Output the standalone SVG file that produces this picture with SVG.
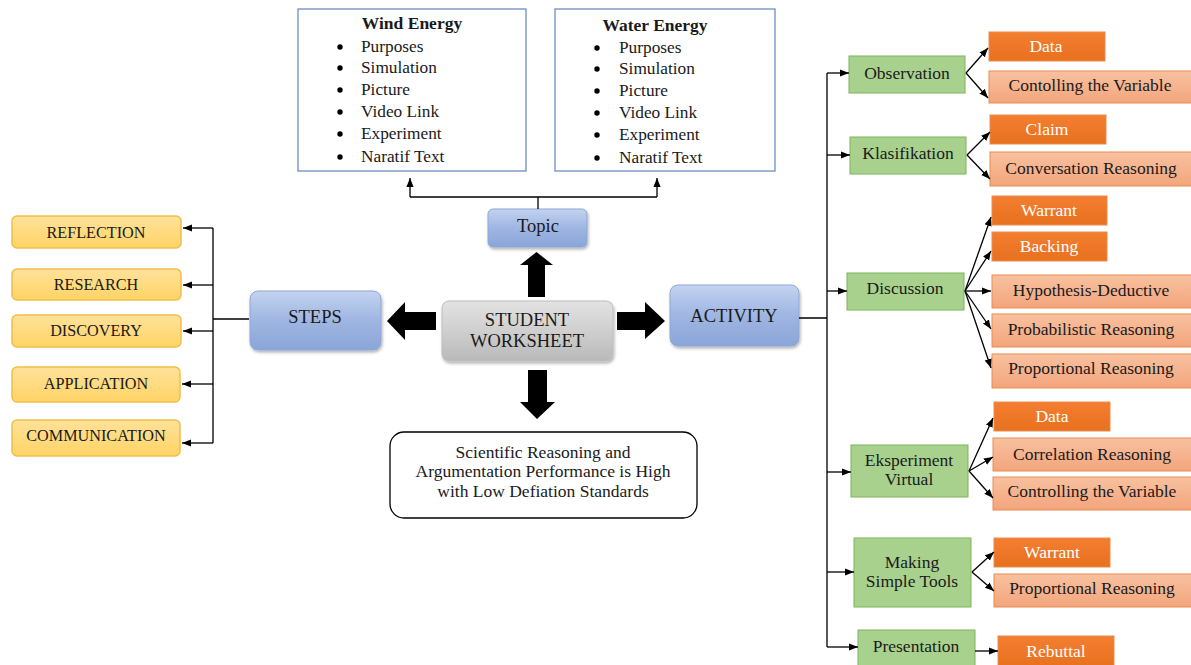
<svg xmlns="http://www.w3.org/2000/svg" width="1191" height="665" viewBox="0 0 1191 665" font-family="'Liberation Serif', 'Times New Roman', 'DejaVu Serif', serif">
<defs>
<linearGradient id="gy" x1="0" y1="0" x2="0" y2="1"><stop offset="0" stop-color="#FFE29A"/><stop offset="1" stop-color="#FFD466"/></linearGradient>
<linearGradient id="gb" x1="0" y1="0" x2="0" y2="1"><stop offset="0" stop-color="#C3D3F0"/><stop offset="0.5" stop-color="#9FB6E2"/><stop offset="1" stop-color="#8AA5D8"/></linearGradient>
<linearGradient id="gg" x1="0" y1="0" x2="0" y2="1"><stop offset="0" stop-color="#E2E2E2"/><stop offset="0.5" stop-color="#CFCFCF"/><stop offset="1" stop-color="#B9B9B9"/></linearGradient>
<linearGradient id="go" x1="0" y1="0" x2="0" y2="1"><stop offset="0" stop-color="#F47E30"/><stop offset="1" stop-color="#E8711F"/></linearGradient>
<linearGradient id="glo" x1="0" y1="0" x2="0" y2="1"><stop offset="0" stop-color="#F8C1A0"/><stop offset="1" stop-color="#F3A57C"/></linearGradient>
<marker id="ah" viewBox="0 0 10 10" refX="10" refY="5" markerWidth="9" markerHeight="9" markerUnits="userSpaceOnUse" orient="auto"><path d="M0,1 L10,5 L0,9 z" fill="#000"/></marker>
<filter id="sh" x="-10%" y="-10%" width="130%" height="140%"><feDropShadow dx="1" dy="2" stdDeviation="1.5" flood-color="#000" flood-opacity="0.3"/></filter>
</defs>
<style>
text{font-family:'Liberation Serif','Times New Roman',serif;fill:#1a1a1a}
.y{fill:url(#gy);stroke:#F0BE4A;stroke-width:1.5}
.b{fill:url(#gb);stroke:#8EA7D6;stroke-width:1}
.g{fill:url(#gg);stroke:#BDBDBD;stroke-width:1}
.gr{fill:#A9D18E;stroke:#7DB35B;stroke-width:1}
.o{fill:url(#go);stroke:#E98B4E;stroke-width:1}
.lo{fill:url(#glo);stroke:#E98B4E;stroke-width:1}
.tb{fill:#fff;stroke:#6C8EBF;stroke-width:1.3}
.ln{fill:none;stroke:#000;stroke-width:1.3}
.ar{fill:none;stroke:#000;stroke-width:1.3;marker-end:url(#ah)}
.cap{font-size:16.2px;text-anchor:middle}
.lab{font-size:17.5px;text-anchor:middle}
.wt{fill:#fff;font-size:17.5px;text-anchor:middle}
.li{font-size:17.3px}
.big{font-size:18.5px;text-anchor:middle}
</style>

<!-- Top boxes -->
<g id="wind">
<rect class="tb" x="298" y="9" width="228" height="162"/>
<text x="412" y="29" font-size="17.5" font-weight="bold" text-anchor="middle">Wind Energy</text>
<g class="li"><circle cx="340" cy="47" r="2.7"/><text x="361" y="52">Purposes</text>
<circle cx="340" cy="68" r="2.7"/><text x="361" y="73">Simulation</text>
<circle cx="340" cy="90" r="2.7"/><text x="361" y="95">Picture</text>
<circle cx="340" cy="112" r="2.7"/><text x="361" y="117">Video Link</text>
<circle cx="340" cy="134" r="2.7"/><text x="361" y="139">Experiment</text>
<circle cx="340" cy="157" r="2.7"/><text x="361" y="162">Naratif Text</text></g>
</g>
<g id="water">
<rect class="tb" x="555" y="9" width="220" height="162"/>
<text x="655" y="31" font-size="17.5" font-weight="bold" text-anchor="middle">Water Energy</text>
<g class="li"><circle cx="597" cy="48" r="2.7"/><text x="619" y="53">Purposes</text>
<circle cx="597" cy="69" r="2.7"/><text x="619" y="74">Simulation</text>
<circle cx="597" cy="91" r="2.7"/><text x="619" y="96">Picture</text>
<circle cx="597" cy="113" r="2.7"/><text x="619" y="118">Video Link</text>
<circle cx="597" cy="135" r="2.7"/><text x="619" y="140">Experiment</text>
<circle cx="597" cy="158" r="2.7"/><text x="619" y="163">Naratif Text</text></g>
</g>

<!-- Center -->
<g id="topic"><rect class="b" x="488" y="209" width="99" height="38" rx="5" filter="url(#sh)"/><text class="big" x="538" y="232">Topic</text></g>
<g id="student"><rect class="g" x="442" y="301" width="171" height="60" rx="7" filter="url(#sh)"/><text class="big" x="527" y="326">STUDENT</text><text class="big" x="527" y="347">WORKSHEET</text></g>
<g id="steps"><rect class="b" x="250" y="291" width="131" height="59" rx="8" filter="url(#sh)"/><text class="big" x="315" y="323">STEPS</text></g>
<g id="activity"><rect class="b" x="670" y="285" width="129" height="61" rx="8" filter="url(#sh)"/><text class="big" x="734" y="322">ACTIVITY</text></g>
<g id="result"><rect x="390" y="432" width="307" height="86" rx="14" fill="#fff" stroke="#000" stroke-width="1.3"/>
<text class="lab" x="543" y="458">Scientific Reasoning and</text>
<text class="lab" x="543" y="477">Argumentation Performance is High</text>
<text class="lab" x="543" y="497">with Low Defiation Standards</text></g>

<!-- Left steps -->
<g id="reflection"><rect class="y" x="12" y="216" width="169" height="32" rx="5"/><text class="cap" x="96" y="238">REFLECTION</text></g>
<g id="research"><rect class="y" x="12" y="269" width="169" height="31" rx="5"/><text class="cap" x="96" y="290">RESEARCH</text></g>
<g id="discovery"><rect class="y" x="12" y="315" width="169" height="32" rx="5"/><text class="cap" x="96" y="336">DISCOVERY</text></g>
<g id="application"><rect class="y" x="12" y="367" width="168" height="35" rx="5"/><text class="cap" x="96" y="389">APPLICATION</text></g>
<g id="communication"><rect class="y" x="12" y="420" width="168" height="36" rx="5"/><text class="cap" x="96" y="441">COMMUNICATION</text></g>

<!-- Right side -->
<g id="observation"><rect class="gr" x="849" y="56" width="116" height="37"/><text class="lab" x="907" y="79">Observation</text></g>
<g id="klasifikation"><rect class="gr" x="850" y="137" width="116" height="37"/><text class="lab" x="908" y="159">Klasifikation</text></g>
<g id="discussion"><rect class="gr" x="847" y="273" width="117" height="37"/><text class="lab" x="905" y="294">Discussion</text></g>
<g id="eksperiment"><rect class="gr" x="851" y="445" width="117" height="52"/><text class="lab" x="909" y="466">Eksperiment</text><text class="lab" x="909" y="485">Virtual</text></g>
<g id="making"><rect class="gr" x="854" y="538" width="117" height="69"/><text class="lab" x="912" y="568">Making</text><text class="lab" x="912" y="587">Simple Tools</text></g>
<g id="presentation"><rect class="gr" x="858" y="630" width="117" height="36"/><text class="lab" x="916" y="652">Presentation</text></g>

<g id="obs-data"><rect class="o" x="989" y="32" width="116" height="29"/><text class="wt" x="1046" y="52">Data</text></g>
<g id="obs-ctrl"><rect class="lo" x="989" y="71" width="205" height="32"/><text class="lab" x="1090" y="91">Contolling the Variable</text></g>
<g id="kla-claim"><rect class="o" x="990" y="115" width="116" height="29"/><text class="wt" x="1047" y="135">Claim</text></g>
<g id="kla-conv"><rect class="lo" x="990" y="152" width="204" height="34"/><text class="lab" x="1091" y="174">Conversation Reasoning</text></g>
<g id="dis-warrant"><rect class="o" x="992" y="196" width="115" height="29"/><text class="wt" x="1049" y="216">Warrant</text></g>
<g id="dis-backing"><rect class="o" x="992" y="232" width="115" height="29"/><text class="wt" x="1049" y="252">Backing</text></g>
<g id="dis-hyp"><rect class="lo" x="992" y="275" width="202" height="33"/><text class="lab" x="1091" y="296">Hypothesis-Deductive</text></g>
<g id="dis-prob"><rect class="lo" x="992" y="314" width="202" height="33"/><text class="lab" x="1091" y="335">Probabilistic Reasoning</text></g>
<g id="dis-prop"><rect class="lo" x="992" y="354" width="202" height="34"/><text class="lab" x="1091" y="374">Proportional Reasoning</text></g>
<g id="eks-data"><rect class="o" x="994" y="402" width="116" height="29"/><text class="wt" x="1052" y="422">Data</text></g>
<g id="eks-corr"><rect class="lo" x="993" y="438" width="201" height="33"/><text class="lab" x="1092" y="460">Correlation Reasoning</text></g>
<g id="eks-ctrl"><rect class="lo" x="993" y="477" width="201" height="33"/><text class="lab" x="1092" y="497">Controlling the Variable</text></g>
<g id="mak-warrant"><rect class="o" x="994" y="538" width="116" height="29"/><text class="wt" x="1052" y="558">Warrant</text></g>
<g id="mak-prop"><rect class="lo" x="994" y="574" width="200" height="33"/><text class="lab" x="1092" y="594">Proportional Reasoning</text></g>
<g id="pre-rebuttal"><rect class="o" x="998" y="636" width="116" height="31"/><text class="wt" x="1056" y="657">Rebuttal</text></g>

<!-- Connectors -->
<g id="connectors">
<polygon points="528,297 528,265 520,265 536.5,252 553,265 545,265 545,297" fill="#000"/>
<polygon points="436,312 405,312 405,302 387,321 405,340 405,330 436,330" fill="#000"/>
<polygon points="617,312 645,312 645,302 665,321 645,339 645,330 617,330" fill="#000"/>
<polygon points="528,370 547,370 547,402 555,402 537,419 520,402 528,402" fill="#000"/>
<path class="ln" d="M538,209 V197 M410,197 H657"/>
<path class="ar" d="M410,197 V178"/>
<path class="ar" d="M657,197 V178"/>
<path class="ln" d="M249,319 H213 M213,228 V443"/>
<path class="ar" d="M213,228 H183"/>
<path class="ar" d="M213,285 H183"/>
<path class="ar" d="M213,331 H183"/>
<path class="ar" d="M213,384 H182"/>
<path class="ar" d="M213,443 H182"/>
<path class="ln" d="M799,318 H827 M827,73 V647"/>
<path class="ar" d="M827,73 H849"/>
<path class="ar" d="M827,155 H850"/>
<path class="ar" d="M827,291 H847"/>
<path class="ar" d="M827,472 H851"/>
<path class="ar" d="M827,572 H854"/>
<path class="ar" d="M827,647 H858"/>
<path class="ar" d="M966,73 L988,48"/>
<path class="ar" d="M966,73 L988,98"/>
<path class="ar" d="M967,155 L990,132"/>
<path class="ar" d="M967,155 L990,179"/>
<path class="ar" d="M965,291 L991,217"/>
<path class="ar" d="M965,291 L991,251"/>
<path class="ar" d="M965,291 L991,291"/>
<path class="ar" d="M965,291 L991,329"/>
<path class="ar" d="M965,291 L991,368"/>
<path class="ar" d="M969,471 L993,418"/>
<path class="ar" d="M969,471 L993,457"/>
<path class="ar" d="M969,471 L993,498"/>
<path class="ar" d="M972,572 L994,552"/>
<path class="ar" d="M972,572 L994,591"/>
<path class="ar" d="M975,651 L998,651"/>
</g>
</svg>
